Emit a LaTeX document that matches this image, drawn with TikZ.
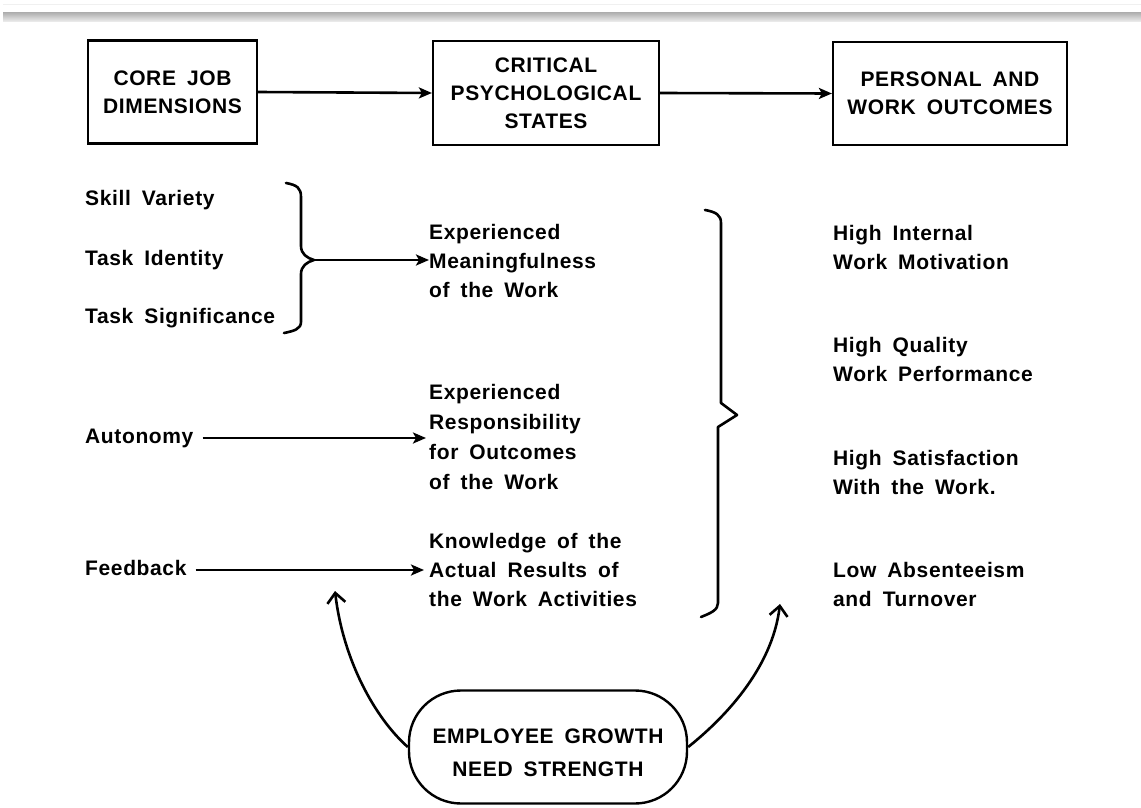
\documentclass[tikz,border=0pt]{standalone}
\usepackage{fontspec}
\setmainfont{Liberation Sans}[LetterSpace=3,WordSpace=1.7]
\usetikzlibrary{arrows.meta}
\begin{document}
\begin{tikzpicture}[x=1pt,y=-1pt,
  lettering/.style={font=\bfseries\fontsize{21}{29}\selectfont},
  txt/.style={lettering, inner sep=0pt, anchor=west, align=left},
  single/.style={txt, text height=15pt, text depth=4pt},
  headbox/.style={draw, line width=2.2pt, lettering, align=center, inner sep=0pt},
  harrow/.style={line width=2.6pt, -{Stealth[length=13pt,width=11pt,inset=3pt]}},
  carrow/.style={line width=2.6pt, -{Straight Barb[length=10pt,width=18pt]}},
  bracepath/.style={line width=2.6pt, line join=round, line cap=round}
]
\useasboundingbox (0,0) rectangle (1141,808);
\fill[white] (0,0) rectangle (1141,808);

% header rule
\draw[gray!12, line width=0.8pt] (3,4) -- (1141,4);
\shade[top color=gray!60, bottom color=gray!12] (3,13) rectangle (1141,22);

% top row of boxes
\node[headbox, minimum width=169pt, minimum height=103pt] (core) at (172.5,92)
  {CORE JOB\\[-1pt]DIMENSIONS};
\node[headbox, minimum width=226pt, minimum height=104pt] (states) at (546,93)
  {CRITICAL\\[-1pt]PSYCHOLOGICAL\\[-1pt]STATES};
\node[headbox, minimum width=234pt, minimum height=103pt] (outcomes) at (950,93.5)
  {PERSONAL AND\\[-1pt]WORK OUTCOMES};
\draw[harrow] (core.east) -- (states.west);
\draw[harrow] (states.east) -- (outcomes.west);

% core job dimensions
\node[single] (skill) at (85,200) {Skill Variety};
\node[single] (ident) at (85,260) {Task Identity};
\node[single] (signif) at (85,318) {Task Significance};
\node[single] (auto) at (85,438) {Autonomy};
\node[single] (feed) at (85,570) {Feedback};

% psychological states
\node[txt] (mean) at (429,261) {Experienced\\Meaningfulness\\of the Work};
\node[txt, font=\bfseries\fontsize{21}{30}\selectfont] (resp) at (429,437)
  {Experienced\\Responsibility\\for Outcomes\\of the Work};
\node[txt] (know) at (429,570) {Knowledge of the\\Actual Results of\\the Work Activities};

% outcomes
\node[txt] (motiv) at (833,247) {High Internal\\Work Motivation};
\node[txt] (perf) at (833,359.5) {High Quality\\Work Performance};
\node[txt] (satis) at (833,472) {High Satisfaction\\With the Work.};
\node[txt] (absent) at (833,584) {Low Absenteeism\\and Turnover};

% brace gathering the first three dimensions
\coordinate (bracetip) at (314,260);
\draw[bracepath] (286,183) .. controls (297,185) and (301,188) .. (301,197)
  -- (301,246) .. controls (301,254) and (307,258) .. (bracetip)
  .. controls (307,262) and (301,266) .. (301,274)
  -- (301,322) .. controls (301,329) and (294,331) .. (284,333);
\draw[harrow] (bracetip) -- (bracetip -| mean.west);

\draw[harrow, shorten <=9pt, shorten >=3pt] (auto.east) -- (auto.east -| resp.west);
\draw[harrow, shorten <=9pt, shorten >=5pt] (feed.east) -- (feed.east -| know.west);

% brace gathering the psychological states
\draw[bracepath] (705,210) .. controls (716,212) and (721,215) .. (721,223)
  -- (721,403) -- (737,415) -- (718,427)
  -- (718,603) .. controls (718,610) and (711,613) .. (701,617);

% moderator
\node[draw, line width=2.4pt, rounded corners=52pt, minimum width=278pt, minimum height=113pt,
  lettering, align=center, inner sep=0pt] (growth) at (548,747)
  {\rule{0pt}{26pt}EMPLOYEE GROWTH\\[4pt]NEED STRENGTH};
\coordinate (leftend) at (335,591);
\coordinate (rightend) at (780,604);
\draw[carrow] (growth.west) .. controls (375,718) and (343,660) .. (leftend);
\draw[carrow] (growth.east) .. controls (722,720) and (772,670) .. (rightend);
\end{tikzpicture}
\end{document}
